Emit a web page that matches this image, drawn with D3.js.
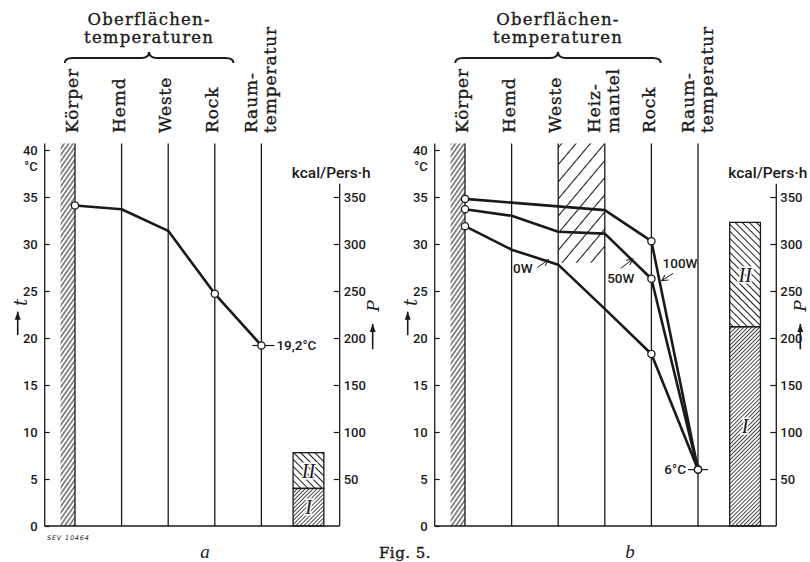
<!DOCTYPE html>
<html>
<head>
<meta charset="utf-8">
<script src="https://cdn.jsdelivr.net/npm/d3@7"></script>
<style>
  body { margin: 0; background: #fff; }
</style>
</head>
<body>
<div id="chart"></div>
<script>
// Fig. 5a: surface temperatures, no heating mantle
const layersA = ["Körper", "Hemd", "Weste", "Rock", "Raum-|temperatur"];
const tempA = [34.1, 33.7, 31.4, 24.7, 19.2];
const heatA = [40, 38];          // I, II in kcal/Pers·h

// Fig. 5b: with heating mantle at 0, 50, 100 W
const layersB = ["Körper", "Hemd", "Weste", "Heiz-|mantel", "Rock", "Raum-|temperatur"];
const seriesB = [
  { name: "0W",   values: [31.9, 29.4, 27.8, 23.1, 18.3, 6] },
  { name: "50W",  values: [33.7, 33.0, 31.3, 31.1, 26.3, 6] },
  { name: "100W", values: [34.8, 34.4, 34.0, 33.6, 30.3, 6] }
];
const heatB = [212, 111];
const mantelBottom = 28;         // lower edge of the hatched Heizmantel zone, °C

const tempTicks = [0, 5, 10, 15, 20, 25, 30, 35, 40];
const powerTicks = [50, 100, 150, 200, 250, 300, 350];
const barNames = ["I", "II"];
const heading = ["Oberflächen-", "temperaturen"];

const W = 810, H = 562;
const ink = "#1a1a1a";
const serif = "'DejaVu Serif', serif";

const svg = d3.select("#chart").append("svg")
    .attr("width", W).attr("height", H)
    .style("font-family", "Roboto, sans-serif");

const y = d3.scaleLinear().domain([0, 40]).range([526, 150]);
const yP = d3.scaleLinear().domain([0, 400]).range([526, 150]);

// hatch patterns
const defs = svg.append("defs");
function hatch(id, gap, angle, sw) {
  const p = defs.append("pattern").attr("id", id)
      .attr("patternUnits", "userSpaceOnUse")
      .attr("width", gap).attr("height", gap)
      .attr("patternTransform", `rotate(${angle})`);
  p.append("line")
      .attr("x1", gap / 2).attr("x2", gap / 2).attr("y1", 0).attr("y2", gap)
      .attr("stroke", ink).attr("stroke-width", sw);
}
hatch("body", 3.6, 35, 1);
hatch("fine", 2.8, 45, 0.8);
hatch("coarse", 5, -45, 1);
hatch("mantel", 11, 40, 1.1);

const marker = defs.append("marker").attr("id", "arr")
    .attr("markerUnits", "userSpaceOnUse")
    .attr("viewBox", "-7 -4 8 8").attr("markerWidth", 8).attr("markerHeight", 8)
    .attr("orient", "auto");
marker.append("path").attr("d", "M-6,-3L0,0L-6,3").attr("fill", "none")
    .attr("stroke", ink).attr("stroke-width", 1);

const headMarker = defs.append("marker").attr("id", "head")
    .attr("markerUnits", "userSpaceOnUse")
    .attr("viewBox", "-8 -4 9 8").attr("markerWidth", 9).attr("markerHeight", 8)
    .attr("orient", "auto");
headMarker.append("path").attr("d", "M-8,-3L0,0L-8,3Z").attr("fill", ink);

function brace(x1, x2, yEnd) {
  const xm = (x1 + x2) / 2, yb = yEnd - 5, yt = yEnd - 11;
  return `M${x1},${yEnd} Q${x1},${yb} ${x1 + 8},${yb} L${xm - 8},${yb} Q${xm},${yb} ${xm},${yt}` +
         ` Q${xm},${yb} ${xm + 8},${yb} L${x2 - 8},${yb} Q${x2},${yb} ${x2},${yEnd}`;
}

function drawPanel(p) {
  const g = svg.append("g");
  const n = p.layers.length - 1;
  const x = d3.scaleLinear().domain([0, 1]).range([p.x0, p.x0 + 46.6]);
  const xl = x(-0.65), xr = x(n + 1.68);
  const top = y(40.7);

  // body (Körper) strip
  g.append("rect")
      .attr("x", x(-0.31)).attr("y", top)
      .attr("width", x(0) - x(-0.31)).attr("height", y(0) - top)
      .attr("fill", "url(#body)");

  // heating mantle zone
  if (p.mantel != null) {
    g.append("rect")
        .attr("x", x(p.mantel - 1)).attr("y", top)
        .attr("width", x(p.mantel) - x(p.mantel - 1))
        .attr("height", y(mantelBottom) - top)
        .attr("fill", "url(#mantel)");
  }

  // layer lines
  g.selectAll("line.col").data(d3.range(0, n + 1)).join("line")
      .attr("x1", d => x(d)).attr("x2", d => x(d))
      .attr("y1", top).attr("y2", y(0))
      .attr("stroke", ink).attr("stroke-width", 1.3);

  // baseline
  g.append("line").attr("x1", xl).attr("x2", xr).attr("y1", y(0)).attr("y2", y(0))
      .attr("stroke", ink).attr("stroke-width", 1.4);

  // left temperature axis
  g.append("line").attr("x1", xl).attr("x2", xl).attr("y1", y(0)).attr("y2", top)
      .attr("stroke", ink).attr("stroke-width", 1.3);
  const ax = g.append("g").attr("transform", `translate(${xl},0)`)
      .call(d3.axisLeft(y).tickValues(tempTicks).tickSizeInner(-5).tickSizeOuter(0).tickPadding(7));
  ax.select(".domain").remove();
  ax.selectAll("line").attr("stroke", ink).attr("stroke-width", 1.2);
  ax.selectAll("text").attr("font-family", "Roboto, sans-serif").attr("font-size", 13)
      .attr("font-weight", 500).attr("fill", ink);
  g.append("text").attr("x", xl - 7).attr("y", y(40) + 21)
      .attr("text-anchor", "end").attr("font-size", 13).attr("font-weight", 500)
      .attr("fill", ink).text("°C");

  // t label with arrow
  g.append("text")
      .attr("transform", `translate(${xl - 24},${y(23.8)}) rotate(-90)`)
      .attr("text-anchor", "middle").attr("dy", "0.35em")
      .attr("font-family", serif).attr("font-style", "italic").attr("font-size", 18)
      .attr("fill", ink).text("t");
  g.append("line").attr("x1", xl - 27).attr("x2", xl - 27)
      .attr("y1", y(20.3)).attr("y2", y(22.8))
      .attr("stroke", ink).attr("stroke-width", 1.6).attr("marker-end", "url(#head)");

  // right power axis
  g.append("line").attr("x1", xr).attr("x2", xr).attr("y1", y(0)).attr("y2", yP(364))
      .attr("stroke", ink).attr("stroke-width", 1.3);
  const ar = g.append("g").attr("transform", `translate(${xr},0)`)
      .call(d3.axisRight(yP).tickValues(powerTicks).tickSizeInner(-6).tickSizeOuter(0).tickPadding(4));
  ar.select(".domain").remove();
  ar.selectAll("line").attr("stroke", ink).attr("stroke-width", 1.2);
  ar.selectAll("text").attr("font-family", "Roboto, sans-serif").attr("font-size", 13)
      .attr("font-weight", 500).attr("fill", ink);
  g.append("text").attr("x", xr + 31).attr("y", 178)
      .attr("text-anchor", "end").attr("font-size", 15.5).attr("font-weight", 500)
      .attr("fill", ink).text("kcal/Pers·h");

  // P label with arrow
  g.append("text")
      .attr("transform", `translate(${xr + p.pOff},${yP(234)}) rotate(-90)`)
      .attr("text-anchor", "middle").attr("dy", "0.35em")
      .attr("font-family", serif).attr("font-style", "italic").attr("font-size", 17)
      .attr("fill", ink).text("P");
  g.append("line").attr("x1", xr + p.pOff).attr("x2", xr + p.pOff)
      .attr("y1", yP(188)).attr("y2", yP(215))
      .attr("stroke", ink).attr("stroke-width", 1.6).attr("marker-end", "url(#head)");

  // stacked heat bar I / II
  const bx0 = x(n + 0.68), bx1 = x(n + 1.34);
  const ends = d3.cumsum(p.heat);
  const segs = p.heat.map((v, i) => ({ name: barNames[i], lo: ends[i] - v, hi: ends[i] }));
  g.selectAll("rect.bar").data(segs).join("rect")
      .attr("x", bx0).attr("width", bx1 - bx0)
      .attr("y", d => yP(d.hi)).attr("height", d => yP(d.lo) - yP(d.hi))
      .attr("fill", (d, i) => i === 0 ? "url(#fine)" : "url(#coarse)")
      .attr("stroke", ink).attr("stroke-width", 1.3);
  g.selectAll("text.bar").data(segs).join("text")
      .attr("x", (bx0 + bx1) / 2).attr("y", d => yP((d.lo + d.hi) / 2))
      .attr("dy", "0.35em").attr("text-anchor", "middle")
      .attr("font-family", "'Liberation Serif', serif").attr("font-style", "italic")
      .attr("font-size", 20).attr("fill", ink)
      .attr("stroke", "#fff").attr("stroke-width", 3).attr("paint-order", "stroke")
      .text(d => d.name);

  // layer labels (rotated)
  p.layers.forEach((lab, i) => {
    const parts = lab.split("|");
    const cx = parts.length > 1 ? x(i) - 1 : x(i) - 3;
    parts.forEach((s, k) => {
      const off = parts.length > 1 ? (k === 0 ? -9.5 : 9.5) : 0;
      g.append("text")
          .attr("transform", `translate(${cx + off},133) rotate(-90)`)
          .attr("dy", "0.36em")
          .attr("font-family", serif).attr("font-size", 17).attr("font-weight", 500)
          .attr("letter-spacing", 0.9).attr("fill", ink)
          .attr("stroke", ink).attr("stroke-width", 0.35)
          .text(s);
    });
  });

  // brace + group heading
  const bxA = x(p.brace[0]), bxB = x(p.brace[1]);
  g.append("path").attr("d", brace(bxA, bxB, 63)).attr("fill", "none")
      .attr("stroke", ink).attr("stroke-width", 2);
  g.selectAll("text.head").data(heading).join("text")
      .attr("x", (bxA + bxB) / 2).attr("y", (d, i) => 25 + i * 18)
      .attr("text-anchor", "middle")
      .attr("font-family", serif).attr("font-size", 16.5).attr("letter-spacing", 1.2)
      .attr("fill", ink).attr("stroke", ink).attr("stroke-width", 0.35)
      .text(d => d);

  // temperature profiles
  const line = d3.line().x((d, i) => x(i)).y(d => y(d));
  g.selectAll("path.series").data(p.series).join("path")
      .attr("d", d => line(d.values))
      .attr("fill", "none").attr("stroke", ink)
      .attr("stroke-width", 2.6).attr("stroke-linejoin", "round");

  // room temperature tick + label
  const room = p.series[0].values[n];
  g.append("line")
      .attr("x1", x(n) - p.roomTick[0]).attr("x2", x(n) + p.roomTick[1])
      .attr("y1", y(room)).attr("y2", y(room))
      .attr("stroke", ink).attr("stroke-width", 1.2);
  g.append("text")
      .attr("x", p.roomLeft ? x(n) - 12 : x(n) + 15).attr("y", y(room))
      .attr("dy", "0.35em").attr("text-anchor", p.roomLeft ? "end" : "start")
      .attr("font-size", 13.5).attr("font-weight", 500).attr("fill", ink).text(p.roomLabel);

  // open circles at measured points
  const pts = p.series.flatMap(s => p.marked.map(i => ({ i, v: s.values[i] })));
  g.selectAll("circle").data(pts).join("circle")
      .attr("cx", d => x(d.i)).attr("cy", d => y(d.v)).attr("r", 3.6)
      .attr("fill", "#fff").attr("stroke", ink).attr("stroke-width", 1.3);

  // panel letter
  g.append("text").attr("x", p.letterX).attr("y", 558).attr("text-anchor", "middle")
      .attr("font-family", "'Liberation Serif', serif").attr("font-style", "italic")
      .attr("font-size", 19).attr("fill", ink).text(p.letter);

  return x;
}

drawPanel({
  x0: 75, layers: layersA, series: [{ name: "a", values: tempA }],
  heat: heatA, marked: [0, 3, 4], brace: [-0.22, 3.4],
  roomLabel: "19,2°C", roomLeft: false, roomTick: [9, 13],
  pOff: 33, letter: "a", letterX: 205
});

const xB = drawPanel({
  x0: 465, layers: layersB, series: seriesB,
  heat: heatB, marked: [0, 4, 5], mantel: 3, brace: [-0.21, 4.2],
  roomLabel: "6°C", roomLeft: true, roomTick: [10, 10],
  pOff: 24, letter: "b", letterX: 630
});

// W labels in panel b
const notes = [
  { text: "0W",   tx: 1.03, tt: 26.9, from: [1.55, 27.5], to: [1.79, 28.3] },
  { text: "50W",  tx: 3.05, tt: 25.8, from: [3.34, 27.4], to: [3.6, 28.4] },
  { text: "100W", tx: 4.24, tt: 27.5, from: [4.47, 26.9], to: [4.22, 26.1] }
];
const gn = svg.append("g");
gn.selectAll("text").data(notes).join("text")
    .attr("x", d => xB(d.tx)).attr("y", d => y(d.tt))
    .attr("font-size", 13.5).attr("font-weight", 500).attr("fill", ink).text(d => d.text);
gn.selectAll("line").data(notes).join("line")
    .attr("x1", d => xB(d.from[0])).attr("y1", d => y(d.from[1]))
    .attr("x2", d => xB(d.to[0])).attr("y2", d => y(d.to[1]))
    .attr("stroke", ink).attr("stroke-width", 1).attr("marker-end", "url(#arr)");

// figure caption and plate number
svg.append("text").attr("x", 405).attr("y", 558).attr("text-anchor", "middle")
    .attr("font-family", serif).attr("font-size", 15).attr("letter-spacing", 0.5)
    .attr("stroke", ink).attr("stroke-width", 0.4)
    .attr("fill", ink).text("Fig. 5.");
svg.append("text").attr("x", 47).attr("y", 540)
    .attr("font-family", "'DejaVu Sans', sans-serif").attr("font-style", "italic")
    .attr("font-size", 6.5).attr("letter-spacing", 0.8).attr("fill", ink).text("SEV 10464");
</script>
</body>
</html>
